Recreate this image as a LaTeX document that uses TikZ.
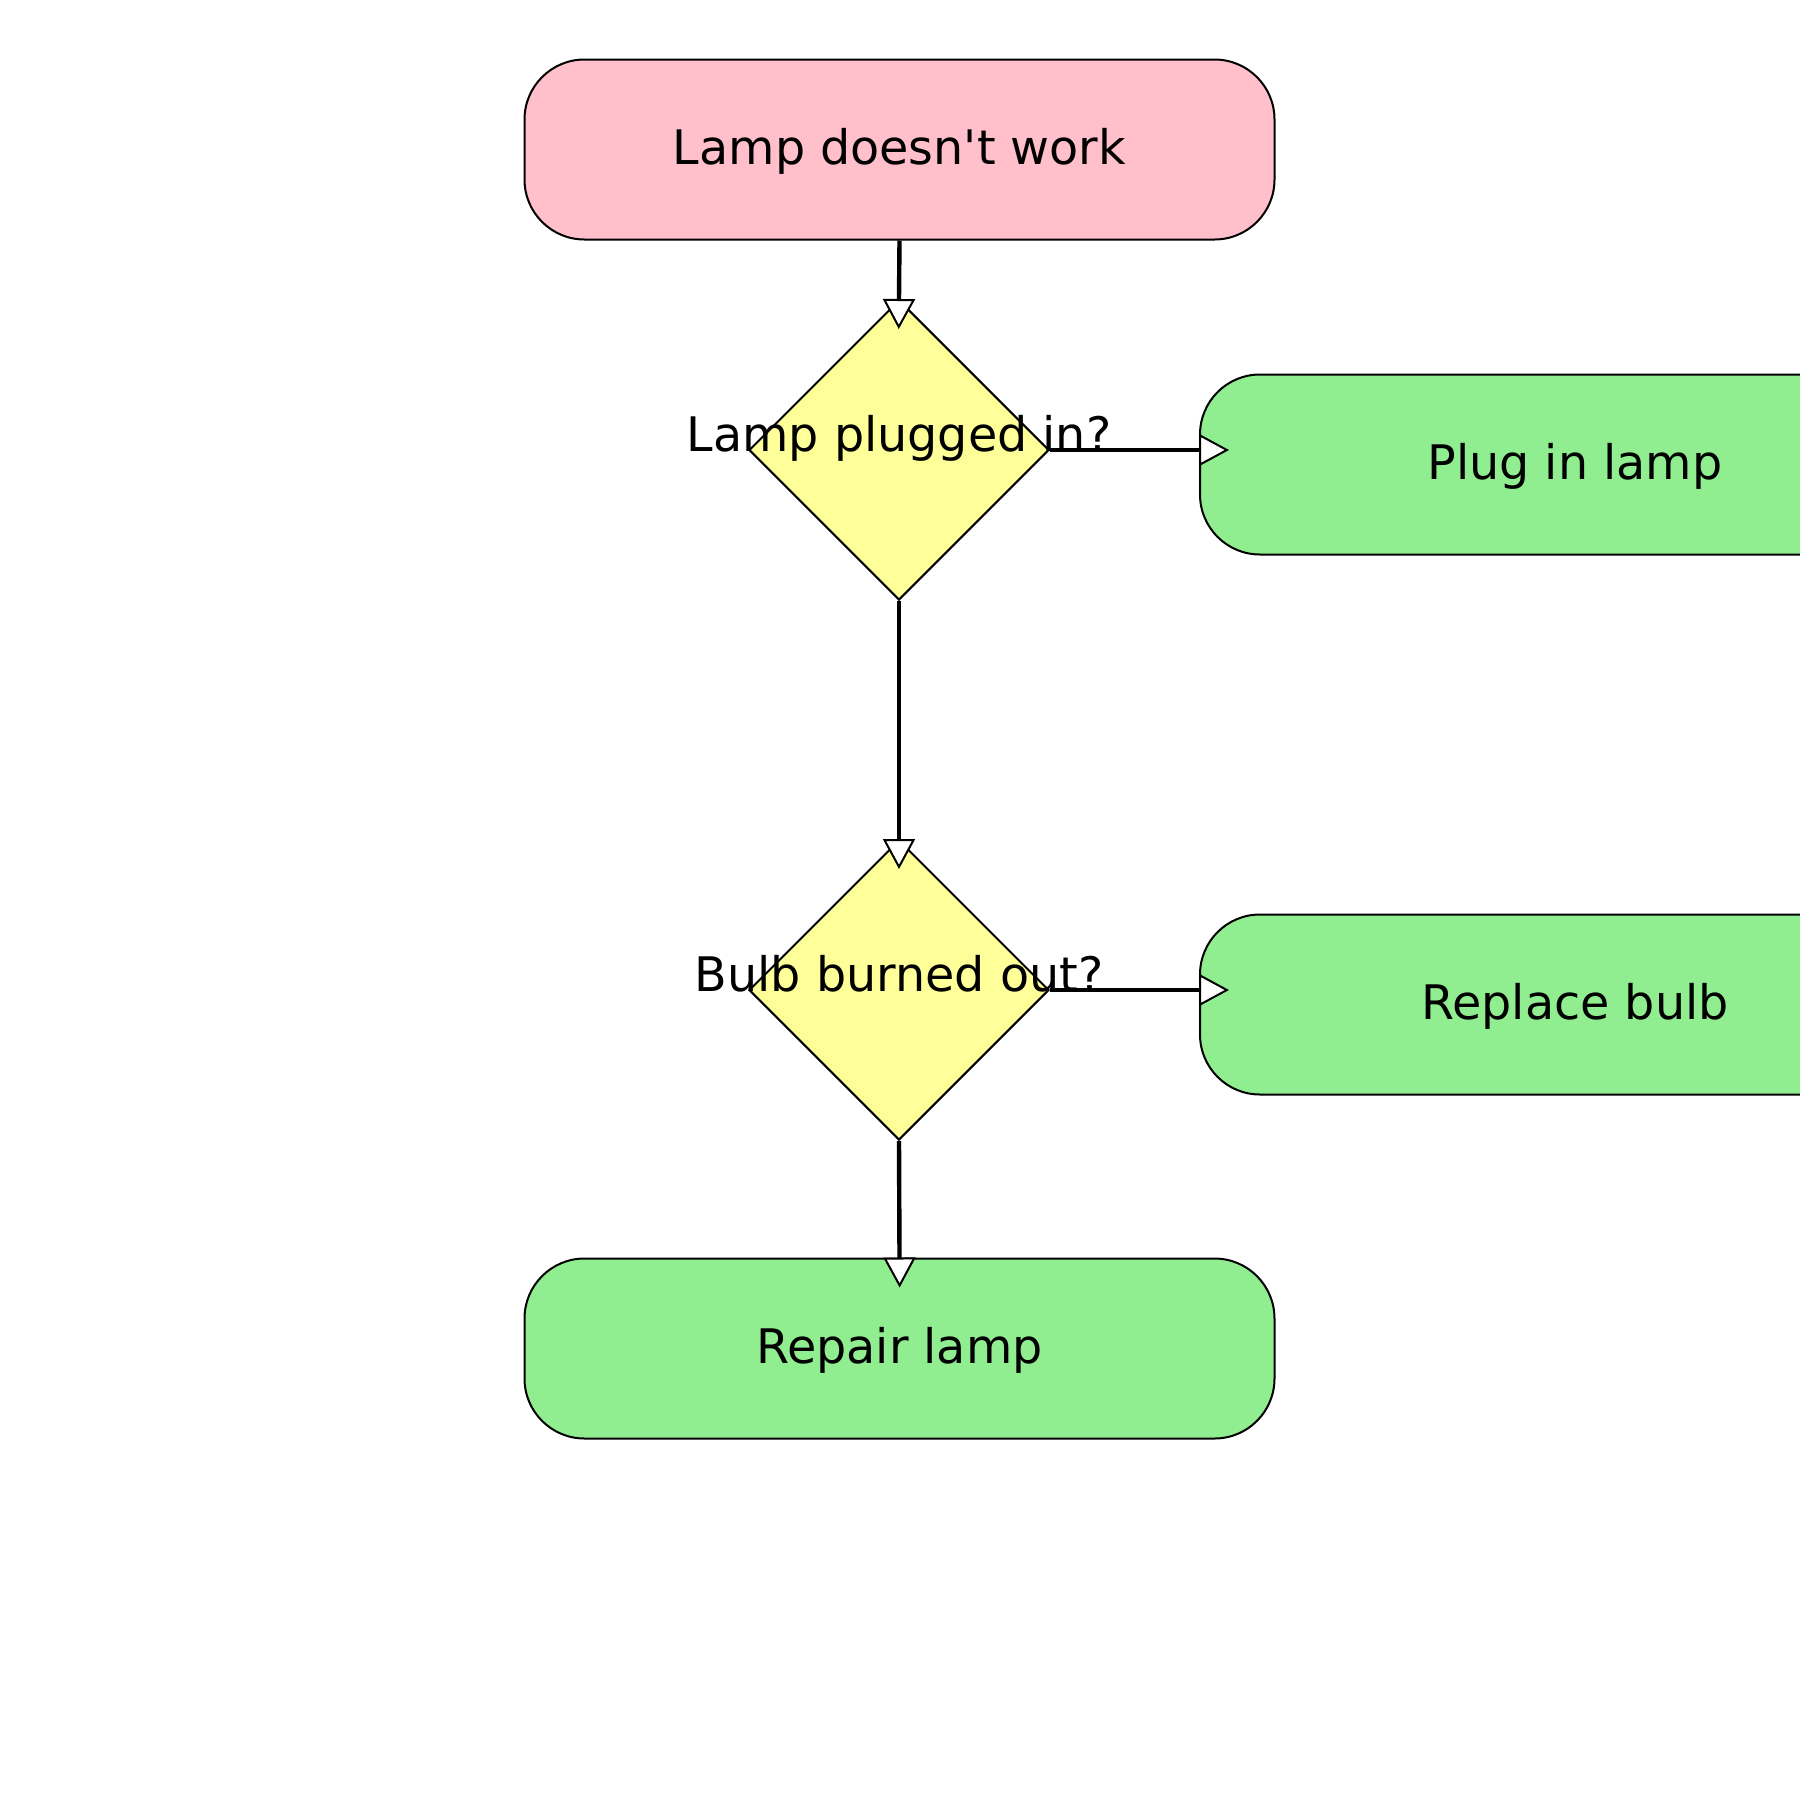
\documentclass[tikz,border=0pt]{standalone}
\usepackage{fontspec}
\setmainfont{DejaVu Sans}[Ligatures=TeXOff]
\usetikzlibrary{shapes.geometric,arrows.meta}
\definecolor{startpink}{HTML}{FFC0CB}
\definecolor{stepgreen}{HTML}{90EE90}
\definecolor{decyellow}{HTML}{FFFF99}
\begin{document}
\begin{tikzpicture}[x=0.5pt,y=-0.5pt,
  box/.style={draw=black, line width=1pt, rectangle, rounded corners=30pt,
    minimum width=375pt, minimum height=90pt, inner sep=0pt,
    text height=20.4pt, text depth=5.6pt,
    font=\fontsize{23.8pt}{28pt}\selectfont},
  dec/.style={draw=black, line width=1pt, diamond, aspect=1,
    minimum width=150pt, minimum height=150pt, inner sep=0pt, fill=decyellow},
  lbl/.style={anchor=base, inner sep=0pt, font=\fontsize{23.8pt}{28pt}\selectfont},
  conn/.style={line width=2.2pt,
    -{Triangle[length=15pt,width=16pt,fill=white,line width=1pt]},
    shorten >=-15pt}
]
\useasboundingbox (0,0) rectangle (1800,1800);
\clip (0,0) rectangle (1800,1800);

\node[box, fill=startpink] (start) at (899.5,149.5) {Lamp doesn't work};
\node[dec] (d1) at (899,450) {};
\node[lbl] (d1t) at (899,451) {Lamp plugged in?};
\node[box, fill=stepgreen] (plug) at (1575,464.5) {Plug in lamp};
\node[dec] (d2) at (899,990) {};
\node[lbl] (d2t) at (899,991) {Bulb burned out?};
\node[box, fill=stepgreen] (repl) at (1575,1004.5) {Replace bulb};
\node[box, fill=stepgreen] (repair) at (899.5,1348.5) {Repair lamp};

\draw[conn] (start.south) -- (d1.north);
\draw[conn] (d1.east) -- (d1.east -| plug.west);
\draw[conn] (d1.south) -- (d2.north);
\draw[conn] (d2.east) -- (d2.east -| repl.west);
\draw[conn] (d2.south) -- (repair.north);
\end{tikzpicture}
\end{document}
